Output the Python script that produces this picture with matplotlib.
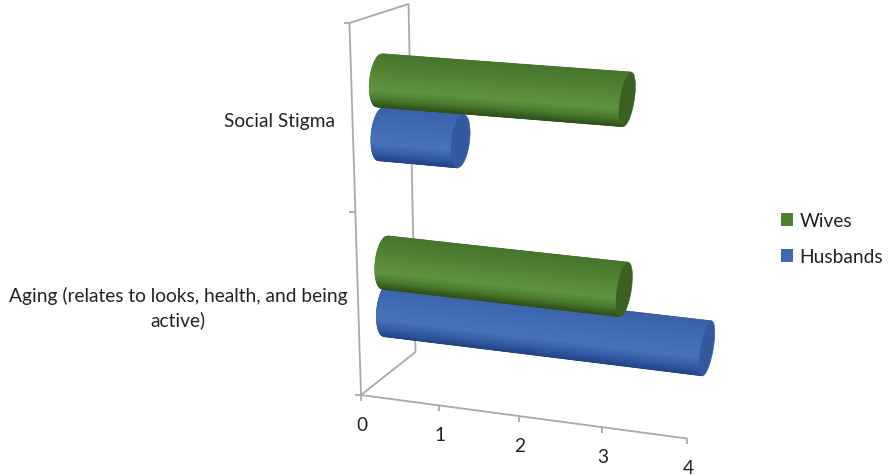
import numpy as np
import matplotlib
matplotlib.use("Agg")
import matplotlib.pyplot as plt
from matplotlib.colors import LinearSegmentedColormap
from matplotlib.patches import Polygon, Patch

plt.rcParams["font.family"] = ["Lato", "DejaVu Sans"]

# Chart data
categories = ["Aging (relates to looks, health, and being\nactive)", "Social Stigma"]
wives = [3, 3]
husbands = [4, 1]
value_ticks = [0, 1, 2, 3, 4]

GRID = "#a9a9a9"
TEXT = "#222222"
FONT = 13.75
BAND_OFFSET = 0.141  # half spacing between the two bars of a category


def depth_fraction(v):
    """Foreshortened position along the value axis, 0 at v=0 and 1 at v=4."""
    v = np.asarray(v, dtype=float)
    return 0.2354 * v / (1 - 0.01456 * v)


def project(v, h):
    """Map value v and category position h to canvas pixels on the bar plane."""
    f = depth_fraction(v)
    x0, x1 = 386 - 5.5 * h, 708 + 6 * h
    y0 = 287.5 - 168 * h - 11 * h ** 2
    y1 = 325 - 175 * h - 14 * h ** 2
    return x0 + f * (x1 - x0), y0 + f * (y1 - y0)


def floor_point(v):
    """Point on the value axis along the front edge of the floor."""
    f = depth_fraction(v)
    return 361 + 326 * f, 396 + 43.5 * f


def section(v):
    """Half-height vector and half-width of the tube's cross section at v."""
    f = depth_fraction(v)
    return np.array([-2.5 - 2.0 * f, 26.5 + 0.8 * f]), 10.0 - 0.95 * v


def draw_tube(ax, value, h, cmap, cap_color, z):
    c0 = np.array(project(0, h))
    c1 = np.array(project(value, h))
    maj0, min0 = section(0)
    maj1, min1 = section(value)

    # Tube body: a two-column mesh running along the length, shaded across it
    s = np.linspace(-1, 1, 81)
    w = np.sqrt(1 - s ** 2)
    X = np.column_stack([c0[0] + s * maj0[0] - w * min0, c1[0] + s * maj1[0] - w * min1])
    Y = np.column_stack([c0[1] + s * maj0[1], c1[1] + s * maj1[1]])
    C = np.column_stack([s, s])
    ax.pcolormesh(X, Y, C, shading="gouraud", cmap=cmap, vmin=-1, vmax=1, zorder=z)

    # Visible end cap of the tube
    t = np.linspace(0, 2 * np.pi, 80)
    cap = np.column_stack([c1[0] + np.sin(t) * maj1[0] + np.cos(t) * min1,
                           c1[1] + np.sin(t) * maj1[1]])
    ax.add_patch(Polygon(cap, closed=True, facecolor=cap_color, edgecolor=cap_color,
                         linewidth=0.4, zorder=z + 0.1))


def shade_map(name, pairs):
    return LinearSegmentedColormap.from_list(name, [((p + 1) / 2, c) for p, c in pairs])


GREEN_SHADE = shade_map("green_tube", [(-1, "#47752d"), (-0.5, "#4f8032"), (0.1, "#5c8f3d"),
                                       (0.35, "#5f9440"), (0.7, "#497a2e"), (1, "#2f5219")])
BLUE_SHADE = shade_map("blue_tube", [(-1, "#3a62a8"), (-0.5, "#3f69b2"), (0.1, "#4670b8"),
                                     (0.35, "#4872ba"), (0.7, "#355da6"), (1, "#234686")])
GREEN_CAP = "#3a6024"
BLUE_CAP = "#34599f"

fig = plt.figure(figsize=(8.88, 4.77), dpi=100)
ax = fig.add_axes([0, 0, 1, 1])
ax.set_xlim(0, 888)
ax.set_ylim(477, 0)
ax.set_autoscale_on(False)
ax.axis("off")


def frame_line(xs, ys):
    ax.plot(xs, ys, color=GRID, lw=1.3, solid_capstyle="butt", zorder=1)


# Walls and floor of the 3D box
frame_line([361, 349.5, 408.5, 415.5, 361], [396, 24, 5, 353, 396])
for ty, tx in [(24, 349.5), (213, 355.4), (396, 361)]:
    frame_line([tx - 6, tx], [ty, ty])

# Value axis along the front of the floor
xs, ys = floor_point(np.array(value_ticks))
frame_line(xs, ys)
for x, y, label in zip(xs, ys, value_ticks):
    frame_line([x, x], [y, y + 6])
    ax.text(x + 1, y + 29.5, str(label), ha="center", va="center", fontsize=FONT, color=TEXT)

# Bars: husbands sit below wives and are overlapped by them
for i, (w, m) in enumerate(zip(wives, husbands)):
    draw_tube(ax, m, i - BAND_OFFSET, BLUE_SHADE, BLUE_CAP, 3 + i)
    draw_tube(ax, w, i + BAND_OFFSET, GREEN_SHADE, GREEN_CAP, 5 + i)

# Category labels
ax.text(279, 121, categories[1], ha="center", va="center", fontsize=FONT, color=TEXT)
ax.text(178, 308, categories[0], ha="center", va="center", fontsize=FONT, color=TEXT,
        linespacing=1.43)

# Legend
handles = [Patch(facecolor="#4f8132", label="Wives"), Patch(facecolor="#4068b0", label="Husbands")]
ax.legend(handles=handles, loc="upper left", bbox_to_anchor=(781 / 888, 1 - 213 / 477),
          bbox_transform=ax.transAxes, frameon=False, fontsize=FONT,
          handlelength=0.64, handleheight=0.64, handletextpad=0.34,
          labelspacing=1.0, borderaxespad=0, borderpad=0, labelcolor=TEXT)

fig.savefig("out.png", dpi=100)
